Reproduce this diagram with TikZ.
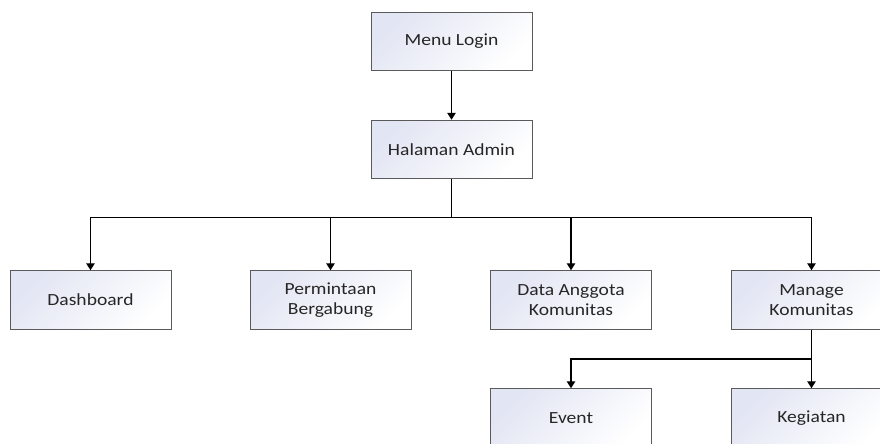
\documentclass[tikz,border=0pt]{standalone}
\usepackage{fontspec}
\setmainfont{Carlito}[FakeStretch=1.15]
\usetikzlibrary{arrows.meta}
\definecolor{boxtint}{HTML}{E2E5F3}
\definecolor{boxedge}{HTML}{5A5A5A}
\tikzset{
  menubox/.style={draw=boxedge, line width=1pt, top color=boxtint, bottom color=white,
    shading angle=45, minimum width=161pt, minimum height=58.5pt, inner sep=0pt,
    align=center, font=\fontsize{17}{19.3}\selectfont, text=black!85},
  link/.style={draw=black, line width=1.3pt},
  arr/.style={link, -{Triangle[length=7pt,width=8.5pt]}}
}
\begin{document}
\begin{tikzpicture}[x=1pt,y=-1pt]
\useasboundingbox (0,0) rectangle (880,444);
\clip (0,0) rectangle (880,444);

% top of the hierarchy
\node[menubox] (login) at (451.5,41.5) {Menu Login};
\node[menubox] (admin) at (451.5,149.5) {Halaman Admin};

% admin menu entries
\node[menubox] (dash)   at (90.5,300)  {Dashboard};
\node[menubox] (minta)  at (330.5,300) {Permintaan\\Bergabung};
\node[menubox] (anggota) at (571,300)  {Data Anggota\\Komunitas};
\node[menubox] (manage) at (811.5,300) {Manage\\Komunitas};

% community management entries
\node[menubox] (event)    at (571,418)   {Event};
\node[menubox] (kegiatan) at (811.5,418) {Kegiatan};

% bus lines
\coordinate (bus1) at (0,217.5);
\coordinate (bus2) at (0,359);

\draw[arr] (login) -- (admin);
\draw[link] (admin.south) -- (admin.south |- bus1);
\draw[arr] (admin.south |- bus1) -| (dash.north);
\draw[arr] (admin.south |- bus1) -| (minta.north);
\draw[arr] (admin.south |- bus1) -| (anggota.north);
\draw[arr] (admin.south |- bus1) -| (manage.north);

\draw[link] (manage.south) -- (manage.south |- bus2);
\draw[arr] (manage.south |- bus2) -| (event.north);
\draw[arr] (manage.south |- bus2) -- (kegiatan.north);
\end{tikzpicture}
\end{document}
